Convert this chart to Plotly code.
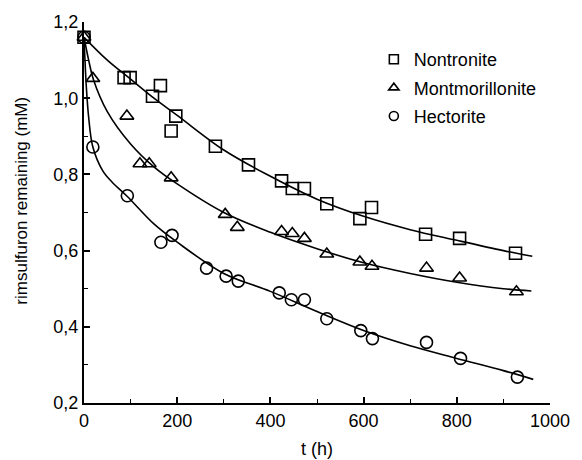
import plotly.graph_objects as go

# Measured data points (t in h, concentration in mM)
nont_t = [0, 86, 99, 147, 164, 187, 197, 282, 353, 424, 447, 473, 521, 592, 617, 733, 806, 926]
nont_y = [1.16, 1.054, 1.054, 1.005, 1.033, 0.914, 0.953, 0.874, 0.825, 0.783, 0.763, 0.763, 0.723, 0.684, 0.713, 0.643, 0.632, 0.593]

mont_t = [0, 19, 92, 120, 140, 187, 303, 329, 424, 447, 473, 521, 592, 618, 735, 806, 928]
mont_y = [1.16, 1.052, 0.953, 0.828, 0.828, 0.791, 0.695, 0.661, 0.65, 0.645, 0.632, 0.591, 0.570, 0.559, 0.554, 0.528, 0.492]

hect_t = [0, 19, 93, 165, 189, 263, 305, 331, 419, 445, 473, 521, 594, 619, 735, 808, 930]
hect_y = [1.16, 0.872, 0.744, 0.622, 0.640, 0.554, 0.533, 0.520, 0.489, 0.471, 0.471, 0.421, 0.390, 0.369, 0.359, 0.317, 0.268]

# Fitted curves
nont_fit_t = [0, 50, 100, 150, 200, 300, 400, 500, 600, 700, 800, 900, 962]
nont_fit_y = [1.16, 1.10, 1.05, 1.0, 0.955, 0.864, 0.795, 0.735, 0.69, 0.655, 0.627, 0.60, 0.585]

mont_fit_t = [0, 10, 20, 50, 100, 150, 200, 300, 400, 500, 600, 700, 800, 900, 960]
mont_fit_y = [1.16, 1.10, 1.05, 0.965, 0.88, 0.82, 0.775, 0.70, 0.648, 0.605, 0.568, 0.54, 0.517, 0.50, 0.494]

hect_fit_t = [0, 5, 10, 19, 40, 60, 93, 150, 200, 300, 400, 500, 600, 700, 800, 900, 964]
hect_fit_y = [1.16, 1.03, 0.95, 0.872, 0.81, 0.78, 0.742, 0.67, 0.622, 0.54, 0.493, 0.44, 0.39, 0.35, 0.317, 0.285, 0.262]

names = ["Nontronite", "Montmorillonite", "Hectorite"]
symbols = ["square-open", "triangle-up-open", "circle-open"]

FONT = "Liberation Sans, Arial, sans-serif"

fig = go.Figure()

series = [(nont_t, nont_y, nont_fit_t, nont_fit_y),
          (mont_t, mont_y, mont_fit_t, mont_fit_y),
          (hect_t, hect_y, hect_fit_t, hect_fit_y)]

for (t, y, ft, fy), sym in zip(series, symbols):
    fig.add_trace(go.Scatter(x=ft, y=fy, mode="lines",
                             line=dict(color="black", width=1.6, shape="spline"),
                             showlegend=False, hoverinfo="skip"))
    fig.add_trace(go.Scatter(x=t, y=y, mode="markers",
                             marker=dict(symbol=sym, size=12, color="black",
                                         line=dict(color="black", width=1.6)),
                             showlegend=False, cliponaxis=False))

# legend entries (smaller symbols as in the reference)
for i, (name, sym) in enumerate(zip(names, symbols)):
    fig.add_trace(go.Scatter(x=[None], y=[None], mode="markers", name=name,
                             legendgroup=name,
                             marker=dict(symbol=sym, size=9, color="black",
                                         line=dict(color="black", width=1.6))))

fig.update_layout(
    width=582, height=460,
    margin=dict(l=84, r=22, t=19, b=57),
    paper_bgcolor="white", plot_bgcolor="white",
    separators=",.",
    font=dict(family=FONT, size=18, color="black"),
    legend=dict(x=0.622, y=0.95, xanchor="left", yanchor="top",
                bgcolor="rgba(0,0,0,0)", font=dict(size=18, family=FONT),
                tracegroupgap=2, itemsizing="trace"),
    xaxis=dict(range=[0, 1000], tickvals=[0, 200, 400, 600, 800, 1000],
               ticks="inside", ticklen=6, tickwidth=1.5, tickcolor="black",
               showline=True, linecolor="black", linewidth=2,
               showgrid=False, zeroline=False,
               minor=dict(dtick=100, tick0=0, ticks="inside", ticklen=4,
                          tickwidth=1.2, tickcolor="black", showgrid=False),
               tickfont=dict(size=18, family=FONT)),
    yaxis=dict(range=[0.2, 1.2], tickvals=[0.2, 0.4, 0.6, 0.8, 1.0, 1.2],
               tickformat=".1f",
               ticks="inside", ticklen=6, tickwidth=1.5, tickcolor="black",
               showline=True, linecolor="black", linewidth=2,
               showgrid=False, zeroline=False,
               minor=dict(dtick=0.1, tick0=0.2, ticks="inside", ticklen=4,
                          tickwidth=1.2, tickcolor="black", showgrid=False),
               tickfont=dict(size=18, family=FONT)),
    annotations=[
        dict(text="rimsulfuron remaining (mM)", textangle=-90,
             xref="paper", yref="paper", x=-0.134, y=0.53,
             xanchor="center", yanchor="middle", showarrow=False,
             font=dict(size=17, family=FONT)),
        dict(text="t (h)", xref="paper", yref="paper", x=0.5, y=-0.122,
             xanchor="center", yanchor="middle", showarrow=False,
             font=dict(size=18, family=FONT)),
    ],
)

fig.write_html("out.html", config={"displayModeBar": False},
               post_script="document.body.style.margin='0';document.body.style.overflow='hidden';")
